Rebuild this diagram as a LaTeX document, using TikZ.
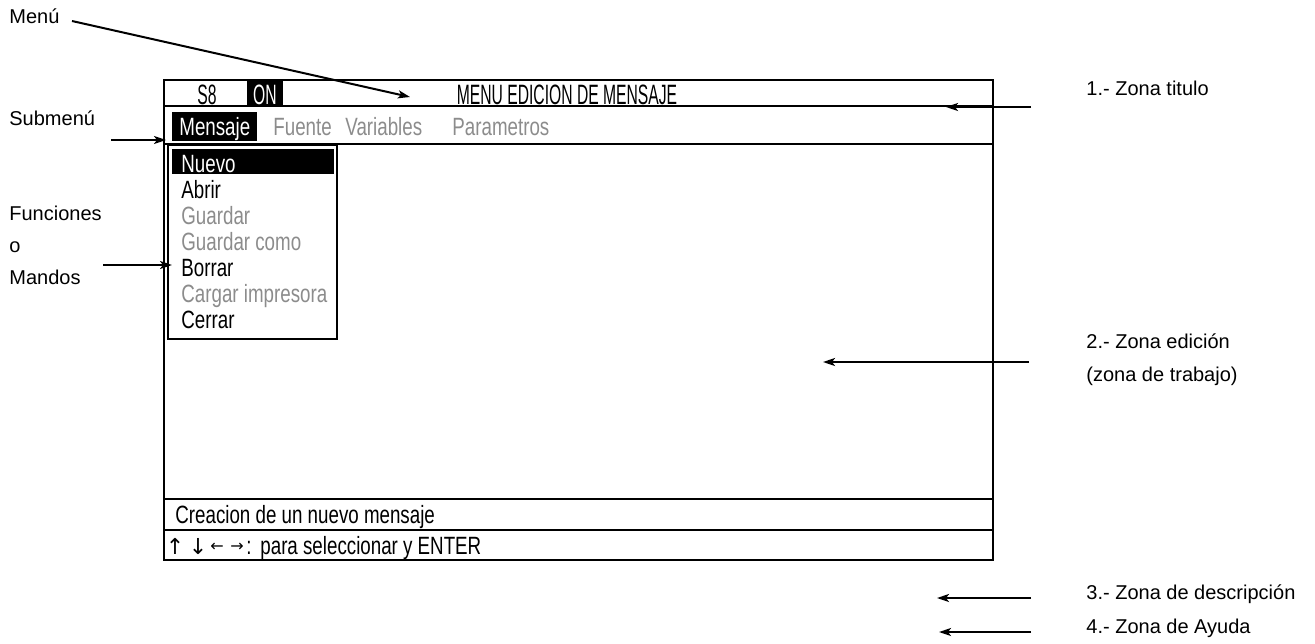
\documentclass[tikz,border=0pt]{standalone}
\usepackage{fontspec}
\setmainfont{Liberation Sans}
\newfontfamily\scr[FakeStretch=0.75]{Liberation Sans}
\newfontfamily\scrt[FakeStretch=0.56]{Liberation Sans}
\newfontfamily\symf{DejaVu Sans}
\usetikzlibrary{arrows.meta}
\definecolor{dimtxt}{gray}{0.55}
\begin{document}
\begin{tikzpicture}[x=0.5pt,y=-0.5pt,
  scrtxt/.style={font=\scr\fontsize{12.5}{14}\selectfont, inner sep=0pt, anchor=base west},
  titletxt/.style={font=\scrt\fontsize{14}{16}\selectfont, inner sep=0pt, anchor=base},
  dim/.style={text=dimtxt},
  lbl/.style={font=\fontsize{10}{12}\selectfont, inner sep=0pt, anchor=base west},
  symtxt/.style={font=\symf\fontsize{9}{10}\selectfont, inner sep=0pt, anchor=base},
  ptr/.style={line width=1pt, -{Stealth[length=6pt,width=4pt,inset=1.5pt]}},
  framebox/.style={line width=1.3pt},
  sepline/.style={line width=0.9pt},
  hilite/.style={fill=black, draw=none}]
\useasboundingbox (0,0) rectangle (1315,643);

% ---- screen frame ----
\draw[framebox] (164,80) rectangle (993,560);
\draw[sepline] (164,106) -- (993,106);
\draw[sepline] (164,144) -- (993,144);
\draw[sepline] (164,499) -- (993,499);
\draw[sepline] (164,530) -- (993,530);

% ---- title bar ----
\node[titletxt] (s8) at (207,104) {S8};
\fill[hilite] (247,80) rectangle (283,106);
\node[titletxt, text=white] (on) at (265,104) {ON};
\node[titletxt] (title) at (567,104) {MENU EDICION DE MENSAJE};

% ---- submenu row ----
\fill[hilite] (172,112) rectangle (257,141);
\node[scrtxt, text=white] (mensaje) at (179,135) {Mensaje};
\node[scrtxt, dim] (fuente) at (273,135) {Fuente};
\node[scrtxt, dim] (variables) at (345,135) {Variables};
\node[scrtxt, dim] (parametros) at (452,135) {Parametros};

% ---- dropdown ----
\draw[line width=0.9pt] (168,145) rectangle (337,339);
\fill[hilite] (172,149) rectangle (334,174);
\node[scrtxt, text=white] (nuevo) at (181,172) {Nuevo};
\node[scrtxt] (abrir) at (181,198) {Abrir};
\node[scrtxt, dim] (guardar) at (181,224) {Guardar};
\node[scrtxt, dim] (guardarcomo) at (181,250) {Guardar como};
\node[scrtxt] (borrar) at (181,276) {Borrar};
\node[scrtxt, dim] (cargar) at (181,302) {Cargar impresora};
\node[scrtxt] (cerrar) at (181,328) {Cerrar};

% ---- description and help rows ----
\node[scrtxt] (desc) at (175,523) {Creacion de un nuevo mensaje};
\node[symtxt, font=\symf\fontsize{11}{12}\selectfont] (up) at (175,554) {↑};
\node[symtxt, font=\symf\fontsize{11}{12}\selectfont] (down) at (198,554) {↓};
\node[symtxt, font=\symf\fontsize{8}{10}\selectfont] (left) at (217,551) {←};
\node[symtxt, font=\symf\fontsize{8}{10}\selectfont] (right) at (237,551) {→};
\node[scrtxt] (colon) at (246,554) {:};
\node[scrtxt] (help) at (260,554) {para seleccionar y ENTER};

% ---- left labels ----
\node[lbl] (lmenu) at (9,23) {Menú};
\node[lbl] (lsub) at (9,125) {Submenú};
\node[lbl] (lfun) at (9,220) {Funciones};
\node[lbl] (lo) at (9,252) {o};
\node[lbl] (lman) at (9,284) {Mandos};

% ---- right labels ----
\node[lbl] (r1) at (1086,95) {1.- Zona titulo};
\node[lbl] (r2a) at (1086,348) {2.- Zona edición};
\node[lbl] (r2b) at (1086,381) {(zona de trabajo)};
\node[lbl] (r3) at (1086,599) {3.- Zona de descripción};
\node[lbl] (r4) at (1086,633) {4.- Zona de Ayuda};

% ---- pointer coordinates ----
\coordinate (pmenuS) at (72,21);   \coordinate (pmenuE) at (410,97);
\coordinate (psubS) at (111,140);  \coordinate (psubE) at (166,140);
\coordinate (pfunS) at (103,265);  \coordinate (pfunE) at (172,265);
\coordinate (p1S) at (1031,107);   \coordinate (p1E) at (946,107);
\coordinate (p2S) at (1029,362);   \coordinate (p2E) at (823,362);
\coordinate (p3S) at (1031,598);   \coordinate (p3E) at (937,598);
\coordinate (p4S) at (1031,632);   \coordinate (p4E) at (939,632);

\draw[ptr] (pmenuS) -- (pmenuE);
\draw[ptr] (psubS) -- (psubE);
\draw[ptr] (pfunS) -- (pfunE);
\draw[ptr] (p1S) -- (p1E);
\draw[ptr] (p2S) -- (p2E);
\draw[ptr] (p3S) -- (p3E);
\draw[ptr] (p4S) -- (p4E);
\end{tikzpicture}
\end{document}
